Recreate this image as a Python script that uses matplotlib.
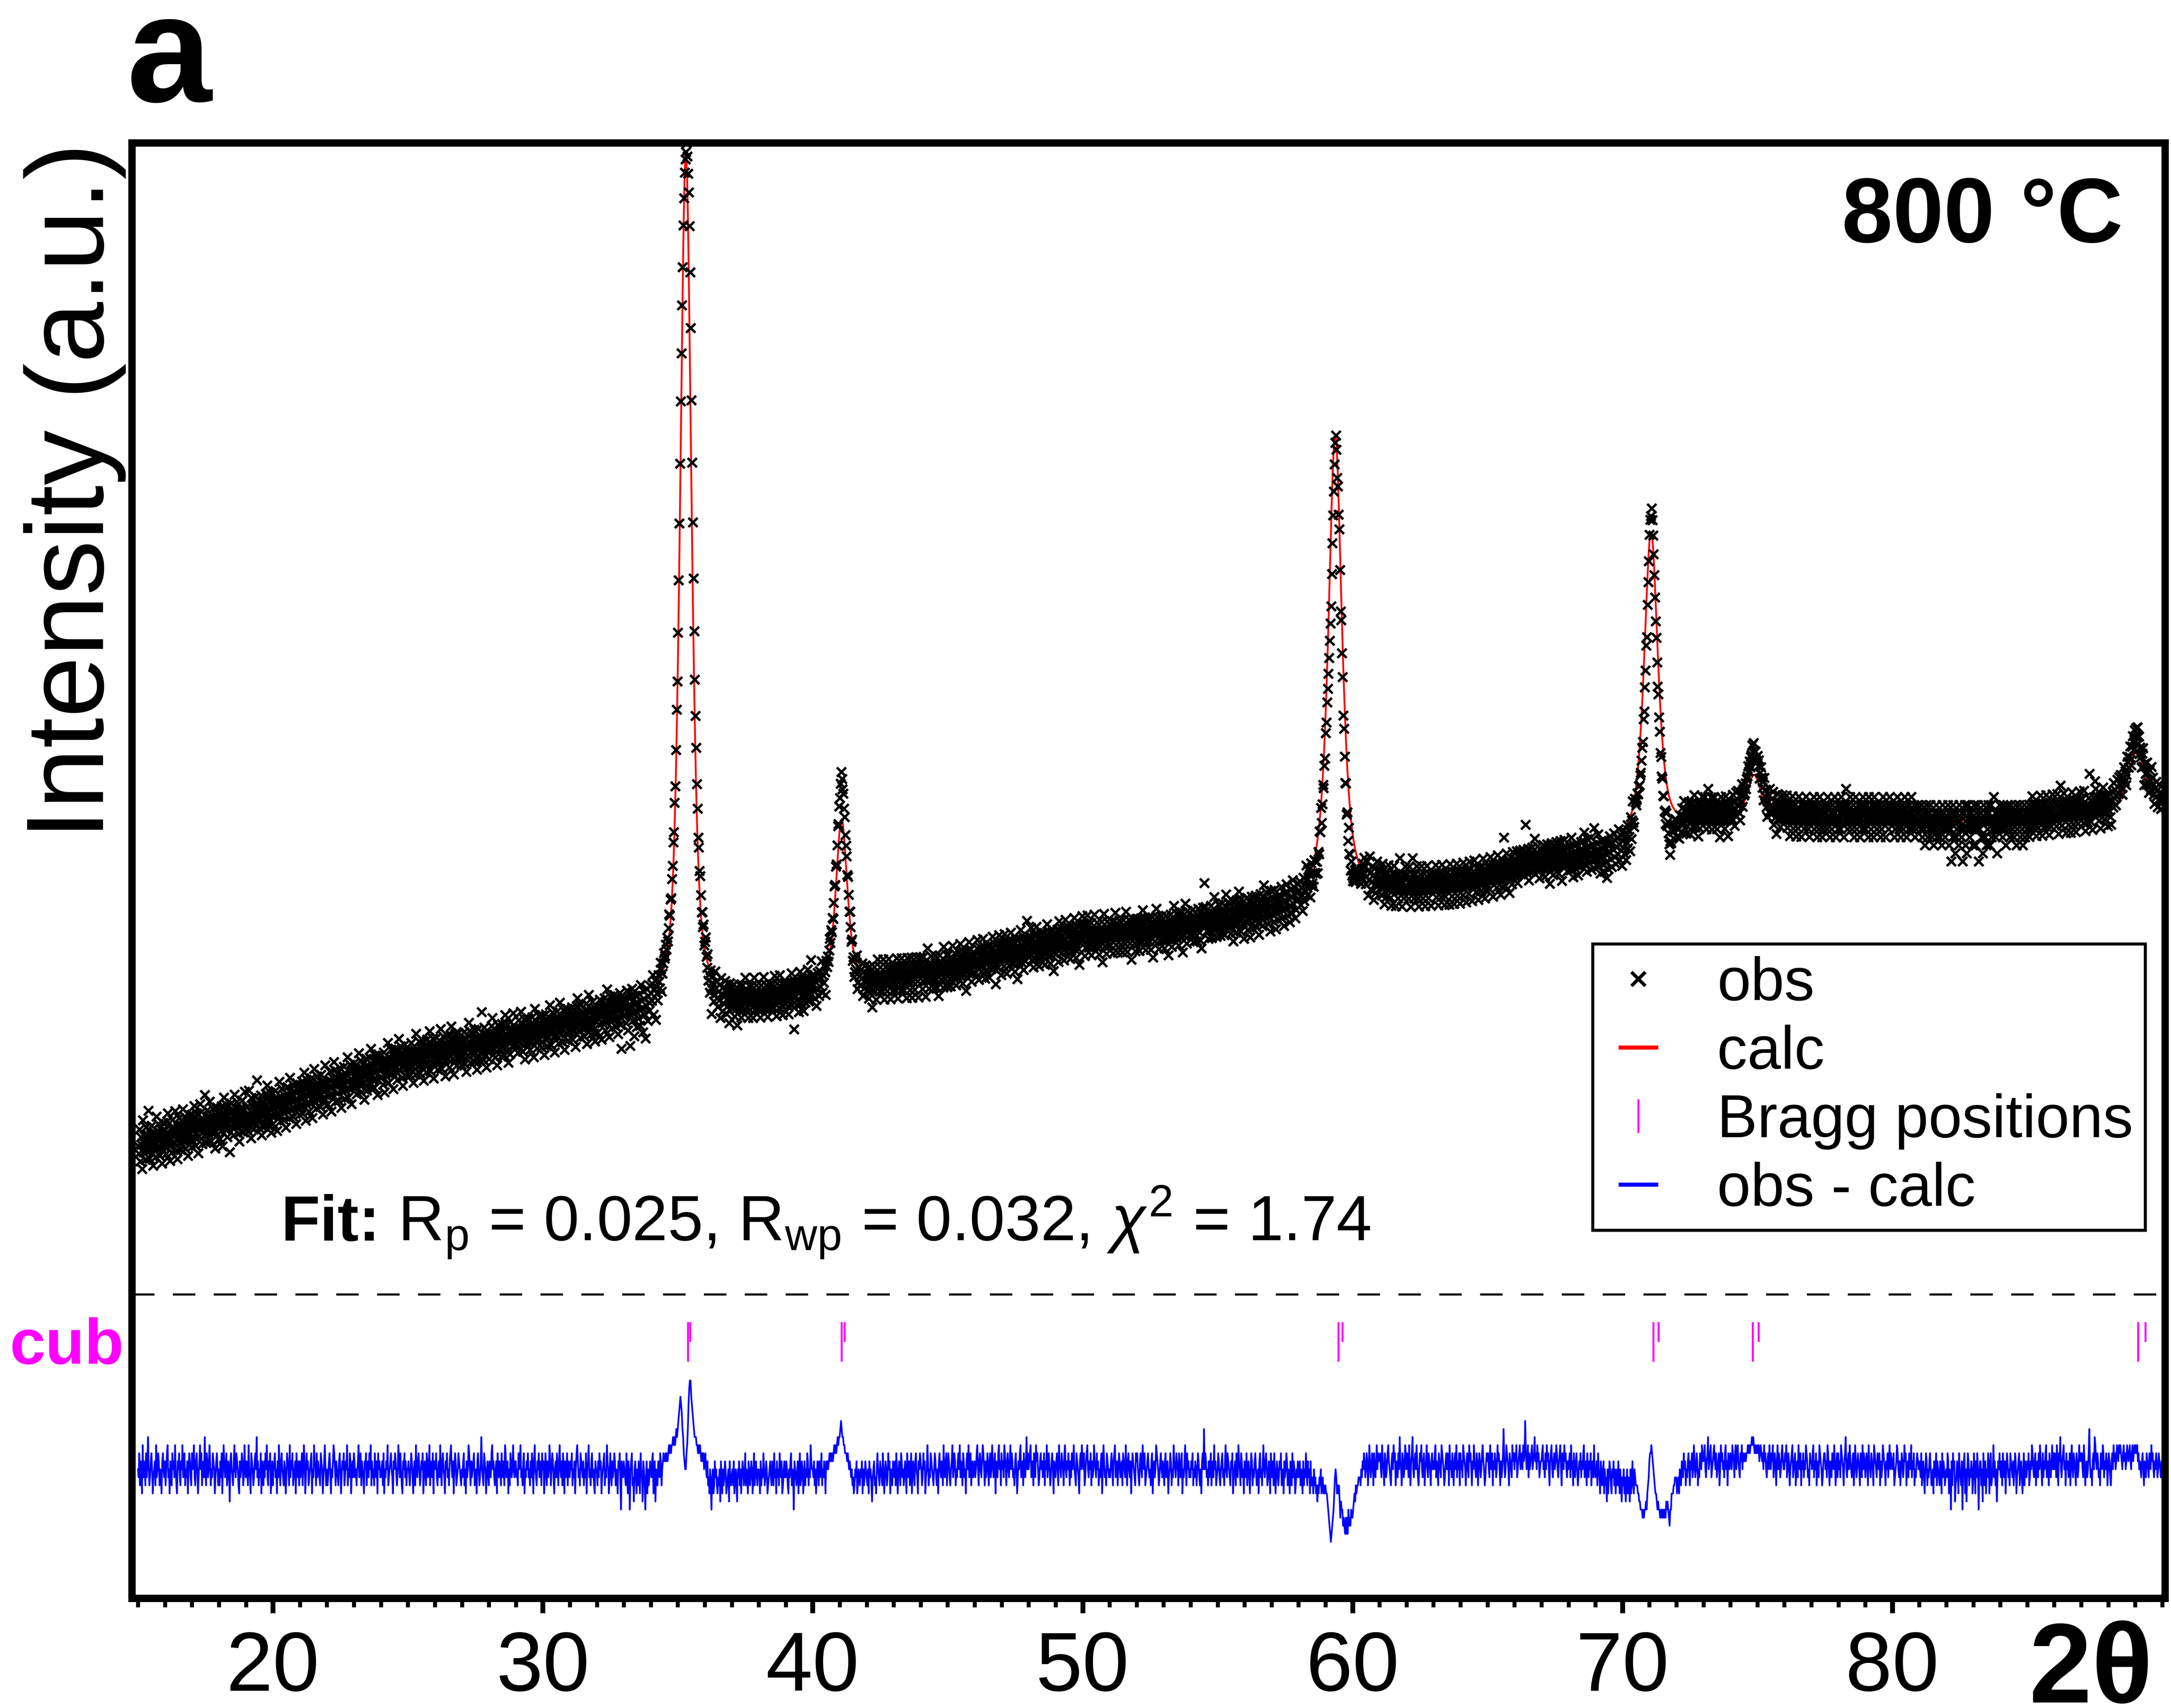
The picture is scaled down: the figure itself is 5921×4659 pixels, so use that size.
import numpy as np
import matplotlib.pyplot as plt
from matplotlib.lines import Line2D
from matplotlib.ticker import MultipleLocator

plt.rcParams["font.family"] = ["Liberation Sans", "DejaVu Sans"]
plt.rcParams["mathtext.fontset"] = "custom"
plt.rcParams["mathtext.rm"] = "Liberation Sans"
plt.rcParams["mathtext.it"] = "Liberation Sans:italic"
plt.rcParams["mathtext.bf"] = "Liberation Sans:bold"

# background fixed points (2theta, counts)
bkg_2theta = [15, 20, 25, 30, 33, 37, 40, 43, 45, 50, 53, 55, 58, 61, 64, 66, 68, 69, 72.5, 76, 80, 85, 88, 90]
bkg_counts = [1235, 1338, 1469, 1545, 1597, 1627, 1660, 1696, 1710, 1795, 1815, 1845, 1885, 1910, 1935, 1968,
              2000, 2025, 2104, 2117, 2120, 2120, 2140, 2160]

# cubic phase reflections: position, height above background, FWHM, Lorentz fraction
peak_2theta = [35.30, 41.07, 59.36, 71.06, 74.88, 89.06]
peak_height = [2331, 450, 1279, 837, 130, 160]
peak_fwhm = [0.50, 0.50, 0.60, 0.60, 0.65, 0.75]
peak_eta = [0.55, 0.6, 0.75, 0.65, 0.6, 0.6]

# tick marks for the reflections (K-alpha1 / K-alpha2)
bragg_ka1 = [35.37, 41.07, 59.47, 71.14, 74.83, 89.10]
bragg_ka2 = [35.46, 41.18, 59.63, 71.34, 75.05, 89.38]

# obs - calc residual, one row per degree starting at 15 deg, 0.025 deg step,
# each character is a level of 22 counts, 'S' = 0
DIFF_CODE = "0123456789ABCDEFGHIJKLMNOPQRSTUVWXYZabcdefghijklmnopqrstuvwxyz"
DIFF_STEP = 22
diff_rows = [
    "SRUQTSPVRTSQURTWSQRTUSPRSTQVRSUTQSRPTUSR",  # 15
    "TQSUVRSPTRQUSTRVSQPTSURQTSVRTUQSRTPSUTRQ",
    "USTVRQTUSPRTVSUQSTRWSQUTRSVTQSRUTSPRTUSQ",
    "SQTRUPSVTRSUQRTSOTUSRQTVSRUTSQPTRSUTQRVS",
    "RTSQVSRPUTSQRTUSWRTQSRUPTSQTRUSVRQTSUPRT",
    "QSTURSPTRVSQTUSRQTSPRUTSQVRTSUQRSTPUSRTQ",  # 20
    "TRSUQSVTPRUSTQRSTUPSRVTSQURTSRQUTSPRTVSQ",
    "SQRTUSPSRTVUSQTSRQTUSPRTSUQRTSVQSRUTPSTR",
    "UTRSQSTVRSUQTSRPTSUQSTRUSVQTRSQUSRTPUSTR",
    "RSTQUPSRTSVQRSTUSRPTSUTRQSVTRUSQPTSURTQS",
    "STRQSUTRPSTQVSRTUSQRTSUPRTSQUTRSVQTSRUPT",  # 25
    "TSURQSTRVSQTUSRPTSURSQTUVSRTPSUTQRSUTSRQ",
    "SRTUQSPTRSVUSQTRSTUQRSPTUSQRTWSRQUTSPRTS",
    "QTSRUVSTRQSTPUSRTSQURTSQVURSTPSQUTRSVSRT",
    "TRSQUSTVRSQTUPSRTSURSQTRUSPTVSRQTSURTSQU",
    "STPRUSQTRSVTQSUTRPSTRUSQTVSRTQUSPTRSUQTS",  # 30
    "RTSUQSRTPSUVTRSQUTSRTQSRUPSTVRSQTURSQPTS",
    "SQTRUSTPRSTUQSRVTSPRUSQTRSUTQSRPTSUQNTSR",
    "TSRQUSPTRNSTUQROSTRPSQTRPUSROTSQNRTPSQRT",
    "SRTUPSTOSRQTSRUTQSTUTTUTUTUVUVUVVWVWVWXW",
    "XYZabaZXWUTSSUVXacddbaZYXWWWVVUVUVUTUTUS",  # 35
    "TUSRTQRPSQNRSPQTRSQPRQSOTRPSQRTSPQRSOTRQ",
    "RSQTPRSQOSRTQSPRTSQRUQSRPTSQRTSPRUQSTRQS",
    "SRPTQSRUSQRTSPQRSTRQTSQURSPTRSQUSRTPQSTR",
    "RTSQPSRTUQSRNTSRQSTPSUQRTSPRTQSRUTQSRVTS",
    "SRTQSPRTSQTRSUQSRTSPTSTSTUTUTUTUVUVUVWVW",  # 40
    "WXYXWWVVUUUTUTSTSRSQRPQSRTPQSRQSRTPSQRTS",
    "RQSPTRSQORSTQRPSUSRQTSRQUSPRTSQRUSTPSRQT",
    "SRTQUSPRTSQUTRSQSTRPUSRTQSUPRTSQTUSRPTSU",
    "TSQRUSTPRSVTQSRUTSRQSUTRQSPTUSRTSQVSRTUQ",
    "SUTRQSTVRSUTQSRTUSVRTSQUTRSPTUSVRTUQSTRS",  # 45
    "TRSUVSQTUSRTVUSQTRSUSQTURSVTRSUPTSRUVSTQ",
    "USTRVUSQTUSRTVSUTRSQTUSPRTSUVRSTQUSRTWSU",
    "STUVRSTQUSRVTUSQRTUSTRSUQTSVRTUSQRTUSPTS",
    "RTUSQVTSRUTSQUVSRTSUSQTRUSTVSRQUTSRPTUSV",
    "TSUQRTUVSRTSUQTRSVTSRUSTQSRTUPSVTRSQUTSR",  # 50
    "SRTUSQTUVRSTQSUTRSTQUTSRVSQTUSRTPSUTSRQU",
    "TUSRQTUSRVTSUQRSTUSRSQTUPSTRSVUTSQRTUSRT",
    "SQTURSTPRSUTQSRVTSRUTSQUTRSUPSRTVSQUSTRS",
    "RTSUQSRTSQSUTRQSPTUSXSUTRSQTRSUQSTRVSTQR",
    "SUTRQSTURSQTVSRUTSRQTSUPRSTQUSRVTSQUTRSP",  # 55
    "TSRUQSTRPSUTQSRTUSQRSPTURSQTVSRTUSQRTSPU",
    "SRTQUSPRTSQRTSUQRSPTRSUTQSRPTSQURTSPQSRT",
    "RSTQSRPTQSRUSQTRSPTQQRPSQRPQOQPRQSPQRPQP",
    "QPPONMLKJKLMNPRSRPQPQOMONNLMLKMKMKNLMLNM",
    "MNOPOQPQQRRRQSRTSUTRSUTQSVTRSUTQUSRTVSUT",  # 60
    "TUSRVTSQUTRSUVTSRQTUSVTUQSTRUSWTSQUTRSVU",
    "SUTRVSQTUWSRTUSVTRQSUTVSRTUQSTVSRUTSQTUS",
    "TSUVRTSQUTSRVUTSQRTUSUTQVSTRUSQTUSVRTSUQ",
    "USTRVUTSQTUSRVTUSQTSVTSRUTQSUTRSUVTSQRTU",
    "TUSRVTSUQTSUTRSVTUSQTRSUXTRSVUTSQUTSRVTU",  # 65
    "SUTVRSTUVSTUSVTUYUSTVRUSTUVSTUWTUSVTURST",
    "TUVSTRUSVTUSQTUVSRTUSTVUSRTUVSQUTSVTUSRT",
    "STURVSTQUSRTUSQRTSURTSUVRSTQUSRTSUQSTRVS",
    "RSTQUSRPTSQRTPSQROSPRTSQPSRTQSPRSQTRPSQO",
    "RQSPROQSPRQOSPRTQPSRQQQPPOONNNMNMNNONPQR",  # 70
    "TUUVUTSRQPPONONNMNMNMNMNMONONMLNNPPPQQRR",
    "RPQRPSRQTSRUSTQSRTUSQTSURSVTRSUTQSRUTSVT",
    "TUVSRTUWSTUVRSTUVTSURSTUQSVTUSTRUVSTQUTS",
    "UTSVUTRUVSUVTSRUTVSUTTUTUUVUVUVVWVWVUVUU",
    "VUVTUVUTUSVTUSRTUSVTSUTVRTUSQTVSUTRSUVTS",  # 75
    "SUTVRSUTQSTUVRSTUQSTRVTSUQTSURTSVUTRSQUT",
    "TSUVRTSUQTSRVUTSQRTUUSTRVUSQTSRUTSVTQSUR",
    "USTRVUTSQTUWSRTUSVTSRTUQSVTRSUTSQUTRVSUT",
    "RTUSQVTSRUTSQVUTSRUTSUQTRSVUTSQTSURTVSUT",
    "STUQRSTVUSRTQSUTRSVTUQSTRUTSVRTSUQSRTUTS",  # 80
    "TSRUQSTRPSUTQSRTUSQRSPTRSUQTSRQTSPURTSQR",
    "SRUTPSRNTQUSTOQRTSPUSRQTNRTUPSORUTQSRTSP",
    "RUSPTRUSNRTTQSOUSQTPSRUTPSUQRSVRTQSORTSU",
    "SRTQUSRTPSUTRSQUTSRTQSUTPRSTUQSTRPSUQTSR",
    "TSUQRTSVUSRTUQSTRUSVTSQURTSUVRSTQUSRTVSU",  # 85
    "SUTRVSQUTWSRTUVSTQUSTRSUQTVSRUTSQUTRSVTU",
    "TUSRVTQSTRSUXTRSQTUSWVTSUTRSQUTSVURTSUTQ",
    "SUTRQTUSVTUSTVUTVUVUTSUVTUSTVUTUVTSUVTUV",
    "UVUVTUSTSRTUSQTSRUTSRUTSVTUSRTSUTRSUTSRTS",
]

DIFF_OFFSET = 352
TICK_LOW, TICK_HIGH = 646, 754
SEPARATOR = 829

two_theta, diff = [], []
for i, row in enumerate(diff_rows):
    for j, ch in enumerate(row):
        two_theta.append(15 + i + 0.025 * j)
        diff.append((DIFF_CODE.index(ch) - 28) * DIFF_STEP)
two_theta = np.array(two_theta)
diff = np.array(diff, dtype=float)

# pseudo-Voigt profiles on top of the linear-interpolation background
calc = np.interp(two_theta, bkg_2theta, bkg_counts)
for pos, h, w, eta in zip(peak_2theta, peak_height, peak_fwhm, peak_eta):
    u = (two_theta - pos) / w
    calc = calc + h * (eta / (1 + 4 * u ** 2) + (1 - eta) * np.exp(-4 * np.log(2) * u ** 2))
obs = calc + diff

fig = plt.figure(figsize=(5921 / 300, 4659 / 300), dpi=300)
ax = fig.add_axes([0.0608, 0.0642, 0.9365, 0.8521])

ax.plot(two_theta, calc, color="red", lw=1.2, zorder=2)
ax.plot(two_theta, obs, ls="none", marker="x", ms=6, mew=1.6, color="black", zorder=3)
ax.plot(two_theta, diff + DIFF_OFFSET, color="blue", lw=1.1, zorder=2)
ax.vlines(bragg_ka1, TICK_LOW, TICK_HIGH, color="magenta", lw=1.3)
ax.vlines(bragg_ka2, (TICK_LOW + TICK_HIGH) / 2, TICK_HIGH, color="magenta", lw=1.3)
ax.axhline(SEPARATOR, color="black", lw=1.4, dashes=(10.5, 8.6))

ax.set_xlim(14.78, 90.11)
ax.set_ylim(0, 3970)
ax.set_yticks([])
ax.set_xticks(np.arange(20, 81, 10))
ax.xaxis.set_minor_locator(MultipleLocator(1))
ax.tick_params(axis="x", which="major", direction="out", length=9.6, width=3.2, labelsize=55, pad=11)
ax.tick_params(axis="x", which="minor", direction="out", length=5.8, width=2.6)
for sp in ax.spines.values():
    sp.set_linewidth(4.8)

handles = [
    Line2D([], [], ls="none", marker="x", ms=9, mew=2.2, color="black"),
    Line2D([], [], ls="none", marker="_", ms=26, mew=2.7, color="red"),
    Line2D([], [], ls="none", marker="|", ms=22, mew=1.3, color="magenta"),
    Line2D([], [], ls="none", marker="_", ms=26, mew=2.7, color="blue"),
]
leg = ax.legend(handles, ["obs", "calc", "Bragg positions", "obs - calc"], loc="upper right",
                bbox_to_anchor=(0.9882, 0.4473), bbox_transform=fig.transFigure, fontsize=39.5,
                frameon=True, fancybox=False, edgecolor="black", framealpha=1, borderpad=0.2,
                labelspacing=0.2, handlelength=1.1, handletextpad=0.76, borderaxespad=0)
leg.get_frame().set_linewidth(2)

fig.text(0.0584, 0.9405, "a", fontsize=100, fontweight="bold", ha="left", va="baseline")
fig.text(0.9779, 0.8582, "800 °C", fontsize=60, fontweight="bold", ha="right", va="baseline")
fig.text(0.0345, 0.7124, "Intensity (a.u.)", fontsize=72, rotation=90, ha="center", va="center")
fig.text(0.0569, 0.2015, "cub", color="magenta", fontsize=42, fontweight="bold", ha="right", va="baseline")
fig.text(0.9917, 0.0032, "2θ", fontsize=74, fontweight="bold", ha="right", va="baseline")

# refinement agreement factors: bold "Fit:" followed by the regular text
fit_size = 41.7
fit_label = fig.text(0.1294, 0.2737, "Fit:", fontsize=fit_size, fontweight="bold", ha="left", va="baseline")
bb = fit_label.get_window_extent(fig.canvas.get_renderer())
gap = 0.28 * fit_size * fig.dpi / 72
fig.text((bb.x1 + gap) / fig.bbox.width, 0.2737,
         r"R$_\mathrm{p}$ = 0.025, R$_\mathrm{wp}$ = 0.032, $\chi^2$ = 1.74",
         fontsize=fit_size, ha="left", va="baseline")

fig.savefig("out.png", dpi=300)
